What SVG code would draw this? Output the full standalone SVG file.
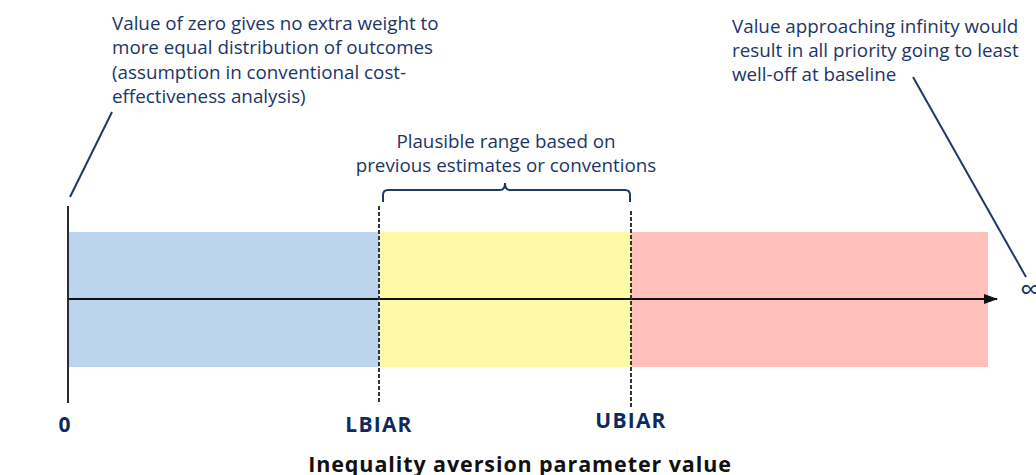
<svg xmlns="http://www.w3.org/2000/svg" width="1036" height="475" viewBox="0 0 1036 475">
  <style>
    .note { font-family: "Open Sans", "Liberation Sans", sans-serif; font-size: 18.8px; fill: #1c3567; }
    .tick { font-family: "Open Sans", "Liberation Sans", sans-serif; font-size: 21px; font-weight: 700; letter-spacing: 1.2px; fill: #0d2a60; }
    .title { font-family: "Open Sans", "Liberation Sans", sans-serif; font-size: 21.5px; font-weight: 700; letter-spacing: 0.9px; fill: #111111; }
    .leader { stroke: #1f3866; stroke-width: 2; fill: none; }
    .bound { stroke: #333333; stroke-width: 2; stroke-dasharray: 4 2; fill: none; }
  </style>
  <defs>
    <marker id="arrowhead" markerWidth="14" markerHeight="10" refX="13" refY="5" orient="auto" markerUnits="userSpaceOnUse">
      <path d="M0,0 L14,5 L0,10 Z" fill="#111111"/>
    </marker>
  </defs>

  <!-- value bands -->
  <g id="band-low">
    <rect x="69" y="232" width="310" height="135" fill="#bdd4ef"/>
  </g>
  <g id="band-plausible">
    <rect x="379" y="232" width="252" height="135" fill="#fffaa8"/>
  </g>
  <g id="band-high">
    <rect x="631" y="232" width="357" height="135" fill="#ffc0bc"/>
  </g>

  <g id="connectors">
    <!-- parameter axis -->
    <line x1="68" y1="299" x2="997" y2="299" stroke="#111111" stroke-width="2" marker-end="url(#arrowhead)"/>
    <!-- zero boundary -->
    <line x1="68" y1="206" x2="68" y2="403" stroke="#2b2b2b" stroke-width="2"/>
    <!-- lower and upper bounds -->
    <line class="bound" x1="379" y1="206" x2="379" y2="404"/>
    <line class="bound" x1="631" y1="211" x2="631" y2="409"/>
    <!-- leaders from the notes -->
    <line class="leader" x1="112" y1="112" x2="70" y2="197"/>
    <line class="leader" x1="913" y1="77" x2="1026" y2="277"/>
    <!-- brace over the plausible range -->
    <path class="leader" d="M383,202 V195 Q383,190 388,190 H500 Q505,190 505,183 Q505,190 510,190 H625 Q630,190 630,195 V202"/>
  </g>

  <g id="note-zero">
    <text class="note" x="112" y="30">Value of zero gives no extra weight to</text>
    <text class="note" x="112" y="54">more equal distribution of outcomes</text>
    <text class="note" x="112" y="79">(assumption in conventional cost-</text>
    <text class="note" x="112" y="103">effectiveness analysis)</text>
  </g>

  <g id="note-range">
    <text class="note" x="506" y="148" text-anchor="middle">Plausible range based on</text>
    <text class="note" x="506" y="172" text-anchor="middle">previous estimates or conventions</text>
  </g>

  <g id="note-infinity">
    <text class="note" x="732" y="33">Value approaching infinity would</text>
    <text class="note" x="732" y="57">result in all priority going to least</text>
    <text class="note" x="732" y="81">well-off at baseline</text>
  </g>

  <g id="label-infinity">
    <text class="note" x="1020" y="300" style="font-size:30px">∞</text>
  </g>
  <g id="label-zero">
    <text class="tick" x="65" y="432" text-anchor="middle">0</text>
  </g>
  <g id="label-lbiar">
    <text class="tick" x="379" y="432" text-anchor="middle">LBIAR</text>
  </g>
  <g id="label-ubiar">
    <text class="tick" x="631" y="428" text-anchor="middle">UBIAR</text>
  </g>
  <g id="axis-title">
    <text class="title" x="520" y="472" text-anchor="middle">Inequality aversion parameter value</text>
  </g>
</svg>
